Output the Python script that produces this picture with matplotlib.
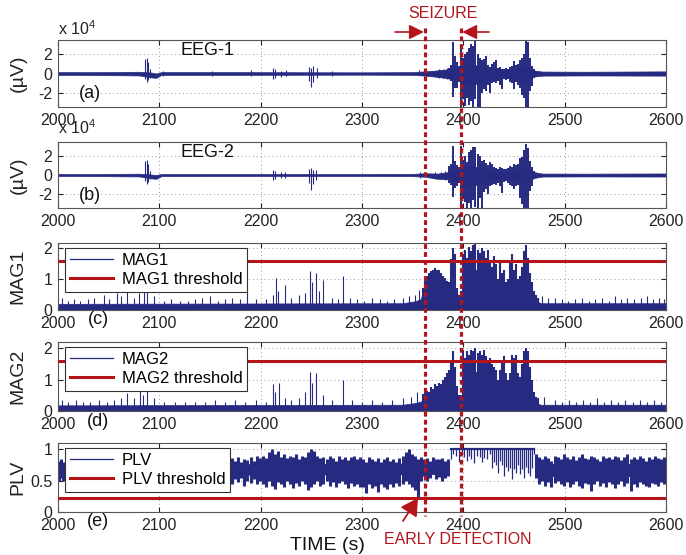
import matplotlib
matplotlib.use('Agg')
import matplotlib.pyplot as plt
from matplotlib.patches import FancyArrowPatch
from matplotlib.lines import Line2D

plt.rcParams['font.family'] = ['Liberation Sans', 'DejaVu Sans']
plt.rcParams['mathtext.fontset'] = 'custom'
plt.rcParams['mathtext.rm'] = 'Liberation Sans'

NAVY = '#262a80'
RED = '#b3151b'

# ---------------- data ----------------
x_ticks = [2000, 2100, 2200, 2300, 2400, 2500, 2600]
detection_time = 2362
seizure_onset = 2398
mag1_threshold = 1.6
mag2_threshold = 1.6
plv_threshold = 0.22

# EEG-1 (x 10^4 uV): background envelope
eeg1_t = [2000, 2040, 2080, 2092, 2097, 2102, 2180, 2300, 2350, 2362, 2372, 2382, 2390, 2398, 2405, 2415, 2425, 2440, 2455, 2462, 2470, 2478, 2520, 2600]
eeg1_up = [0.14, 0.14, 0.18, 0.1, 0.0, 0.14, 0.14, 0.12, 0.14, 0.22, 0.3, 0.4, 0.5, 0.7, 1.0, 0.8, 0.5, 0.3, 0.5, 0.7, 0.3, 0.2, 0.18, 0.22]
eeg1_lo = [-0.14, -0.16, -0.2, -0.4, -0.45, -0.14, -0.14, -0.12, -0.14, -0.22, -0.32, -0.45, -0.6, -0.8, -1.2, -1.0, -0.6, -0.35, -0.6, -0.8, -0.3, -0.22, -0.2, -0.22]
# EEG-1 isolated bursts
eeg1_spk_t = [2086, 2088, 2089, 2091, 2104, 2152, 2190, 2212, 2214, 2220, 2225, 2248, 2250, 2252, 2256, 2270, 2356, 2376, 2380, 2384]
eeg1_spk_hi = [1.5, 1.6, 1.2, 0.5, 0.3, 0.3, 0.35, 0.6, 0.5, 0.3, 0.35, 0.7, 0.6, 0.8, 0.6, 0.25, 0.35, 0.45, 0.5, 0.55]
eeg1_spk_lo = [-0.6, -0.9, -0.7, -0.5, -0.3, -0.25, -0.25, -0.6, -0.5, -0.35, -0.3, -0.8, -1.4, -0.9, -0.5, -0.3, -0.2, -0.45, -0.5, -0.6]
# EEG-1 seizure oscillation, every 2 s from 2386 to 2472
eeg1_sz_t = list(range(2386, 2473, 2))
eeg1_sz_hi = [0.6, 0.9, 3.2, 1.8, 1.2, 0.8, 3.0, 1.6, 2.0, 2.2, 2.6, 3.0, 2.8, 3.3, 2.0, 1.6, 1.4, 1.5, 1.8, 0.9, 0.7, 1.0,
              1.2, 1.4, 0.6, 0.7, 0.5, 0.5, 0.6, 0.5, 0.7, 0.8, 1.3, 0.9, 1.0, 1.4, 1.6, 2.0, 3.3, 3.2, 1.6, 0.8, 0.5, 0.3]
eeg1_sz_lo = [-0.6, -0.8, -2.4, -1.5, -1.5, -0.9, -3.4, -2.6, -3.3, -2.5, -3.2, -2.8, -3.4, -2.6, -3.4, -3.4, -2.0, -1.6, -1.8, -1.2, -2.0, -1.0,
              -0.9, -1.0, -0.8, -1.2, -1.6, -0.6, -0.7, -0.6, -0.9, -1.0, -1.6, -0.9, -1.2, -1.5, -2.2, -2.5, -3.4, -3.4, -1.8, -1.3, -0.5, -0.35]

# EEG-2
eeg2_t = [2000, 2040, 2080, 2092, 2097, 2102, 2180, 2300, 2350, 2362, 2375, 2385, 2390, 2398, 2405, 2415, 2425, 2440, 2455, 2462, 2470, 2478, 2520, 2600]
eeg2_up = [0.1, 0.1, 0.14, 0.05, 0.0, 0.1, 0.1, 0.1, 0.12, 0.18, 0.15, 0.3, 0.5, 0.7, 1.0, 0.8, 0.5, 0.3, 0.5, 0.7, 0.3, 0.15, 0.14, 0.16]
eeg2_lo = [-0.1, -0.12, -0.15, -0.35, -0.4, -0.12, -0.1, -0.1, -0.12, -0.18, -0.4, -0.45, -0.6, -0.8, -1.2, -1.0, -0.6, -0.35, -0.6, -0.8, -0.3, -0.16, -0.15, -0.16]
eeg2_spk_t = [2086, 2088, 2089, 2091, 2212, 2214, 2220, 2224, 2248, 2250, 2252, 2255, 2357, 2372, 2378, 2382]
eeg2_spk_hi = [1.5, 1.6, 1.1, 0.4, 0.5, 0.4, 0.3, 0.3, 0.6, 0.7, 0.5, 0.5, 0.3, 0.3, 0.35, 0.45]
eeg2_spk_lo = [-0.6, -0.9, -0.7, -0.4, -0.5, -0.4, -0.3, -0.3, -0.8, -1.6, -0.9, -0.5, -0.3, -0.4, -0.45, -0.5]
eeg2_sz_t = list(range(2386, 2473, 2))
eeg2_sz_hi = [0.9, 1.2, 3.0, 1.5, 1.0, 0.8, 3.0, 1.6, 2.0, 1.4, 2.4, 2.6, 2.9, 2.9, 2.2, 2.0, 1.5, 1.6, 1.3, 1.0, 1.4, 1.2,
              0.8, 0.7, 0.6, 0.8, 0.7, 0.6, 0.6, 0.7, 0.9, 0.8, 1.2, 1.0, 1.1, 1.8, 1.9, 2.6, 3.2, 2.8, 1.5, 0.8, 0.4, 0.25]
eeg2_sz_lo = [-0.8, -1.0, -2.3, -1.4, -1.2, -0.8, -3.3, -2.5, -2.8, -3.4, -2.9, -3.4, -2.6, -3.3, -3.4, -2.4, -3.4, -1.8, -1.5, -2.0, -1.2, -1.0,
              -0.9, -1.0, -0.8, -1.1, -1.9, -0.7, -0.6, -0.8, -1.0, -1.1, -1.5, -1.2, -1.0, -2.4, -3.0, -3.4, -3.4, -3.4, -1.7, -1.2, -0.4, -0.25]

# MAG1: dense level (fill) + peaks
mag1_t = [2000, 2340, 2352, 2358] + list(range(2362, 2471, 3)) + [2476, 2600]
mag1_v = [0.2, 0.22, 0.28, 0.35,
          0.85, 1.0, 1.05, 1.15, 1.1, 1.12, 0.95, 0.85, 0.7, 0.6, 0.55, 0.35, 0.25, 0.9, 1.1, 1.0, 1.25, 1.3, 1.1,
          1.2, 0.9, 1.0, 0.7, 0.85, 0.55, 0.75, 0.5, 0.45, 0.8, 0.65, 0.75, 0.5, 0.7, 0.9, 0.8, 0.5, 0.35,
          0.22, 0.22]
mag1_pk_t = [2004, 2010, 2016, 2022, 2030, 2036, 2045, 2050, 2058, 2062, 2068, 2075, 2080, 2085, 2088, 2095, 2105, 2112, 2120, 2128, 2135, 2142, 2150, 2158, 2165, 2172, 2180, 2187, 2195, 2205, 2212, 2215, 2217, 2224, 2230, 2238, 2244, 2249, 2251, 2255, 2258, 2262, 2270, 2276, 2281, 2288, 2295, 2302, 2310, 2318, 2325, 2332, 2340, 2346, 2352, 2356,
             2478, 2484, 2490, 2497, 2503, 2510, 2517, 2524, 2530, 2537, 2544, 2550, 2556, 2562, 2568, 2575, 2581, 2587, 2593, 2598]
mag1_pk_v = [0.4, 0.3, 0.35, 0.3, 0.35, 0.4, 0.5, 0.35, 0.55, 0.45, 0.7, 0.4, 0.55, 0.6, 0.7, 0.45, 0.3, 0.35, 0.3, 0.3, 0.35, 0.4, 0.45, 0.3, 0.35, 0.4, 0.35, 0.66, 0.35, 0.35, 0.5, 1.05, 0.6, 0.82, 0.4, 0.5, 0.55, 1.25, 0.9, 1.2, 0.6, 0.98, 0.4, 0.35, 1.1, 0.4, 0.35, 0.3, 0.4, 0.35, 0.3, 0.35, 0.4, 0.45, 0.5, 0.65,
             0.45, 0.4, 0.4, 0.35, 0.3, 0.35, 0.4, 0.3, 0.35, 0.4, 0.3, 0.45, 0.35, 0.4, 0.35, 0.4, 0.45, 0.35, 0.4, 0.35]
mag1_sz_t = list(range(2360, 2475, 2))
mag1_sz_v = [0.7, 1.0, 1.1, 1.2, 1.25, 1.3, 1.35, 1.3, 1.28, 1.2, 1.1, 1.05, 0.95, 0.9, 1.65, 2.0, 1.8, 0.7, 0.5, 0.6,
             1.8, 1.95, 1.7, 2.05, 1.9, 2.1, 2.2, 1.95, 1.85, 2.0, 1.9, 1.7, 1.95, 1.6, 1.4, 1.75, 1.5, 1.0, 1.6, 1.2,
             1.3, 0.9, 1.0, 1.6, 1.8, 1.3, 1.5, 1.0, 1.1, 1.4, 1.9, 2.1, 1.7, 1.2, 0.9, 0.6, 0.5, 0.4]

# MAG2
mag2_t = [2000, 2340, 2352, 2358] + list(range(2362, 2471, 3)) + [2476, 2600]
mag2_v = [0.18, 0.2, 0.25, 0.3,
          0.4, 0.45, 0.5, 0.55, 0.6, 0.62, 0.68, 0.75, 0.8, 0.85, 0.7, 0.4, 0.25, 0.8, 1.0, 1.1, 1.2, 1.25, 1.2,
          1.1, 1.0, 0.9, 0.8, 0.7, 0.55, 0.75, 0.6, 0.45, 0.7, 0.75, 0.6, 0.5, 0.75, 0.85, 0.7, 0.45, 0.3,
          0.2, 0.2]
mag2_pk_t = [2004, 2010, 2018, 2025, 2032, 2040, 2048, 2055, 2062, 2068, 2075, 2081, 2084, 2088, 2095, 2105, 2115, 2125, 2135, 2145, 2155, 2165, 2175, 2185, 2195, 2205, 2212, 2214, 2218, 2224, 2230, 2238, 2244, 2249, 2251, 2255, 2262, 2270, 2281, 2290, 2300, 2310, 2320, 2330, 2340, 2348, 2354,
             2480, 2490, 2497, 2504, 2511, 2518, 2525, 2532, 2539, 2546, 2553, 2560, 2567, 2574, 2581, 2588, 2595]
mag2_pk_v = [0.35, 0.3, 0.35, 0.3, 0.3, 0.35, 0.3, 0.35, 0.4, 0.57, 0.4, 0.88, 0.5, 0.7, 0.4, 0.3, 0.3, 0.3, 0.3, 0.3, 0.35, 0.3, 0.35, 0.3, 0.35, 0.3, 0.85, 0.6, 0.9, 0.4, 0.35, 0.4, 0.6, 1.25, 0.9, 1.2, 0.5, 0.35, 1.0, 0.35, 0.3, 0.35, 0.3, 0.35, 0.4, 0.45, 0.61,
             0.45, 0.35, 0.3, 0.35, 0.3, 0.35, 0.3, 0.4, 0.3, 0.35, 0.3, 0.35, 0.3, 0.35, 0.3, 0.35, 0.3]
mag2_sz_t = list(range(2360, 2475, 2))
mag2_sz_v = [0.55, 0.6, 0.65, 0.6, 0.75, 0.7, 0.85, 0.8, 0.9, 0.85, 1.0, 1.1, 1.2, 1.3, 1.6, 1.9, 1.4, 0.8, 0.5, 0.5,
             1.95, 1.7, 1.9, 1.8, 1.95, 1.9, 2.0, 1.85, 1.9, 1.8, 1.95, 1.75, 1.6, 1.7, 1.5, 1.4, 1.3, 1.0, 1.3, 1.6,
             1.75, 1.2, 1.0, 1.2, 1.8, 1.7, 1.8, 1.2, 1.1, 1.5, 1.9, 2.0, 1.9, 1.4, 1.0, 0.6, 0.45, 0.4]

# PLV: oscillation extremes every 3 s (before and after the locked interval)
plv_pre_t = [2001, 2003, 2005] + list(range(2166, 2388, 3))
plv_pre_hi = [0.82, 0.85, 0.8,
              0.84, 0.8, 0.86, 0.82, 0.88, 0.8, 0.85, 0.83, 0.87, 0.82, 0.9, 0.86,
              0.9, 0.86, 0.95, 1.0, 0.92, 0.97, 0.88, 0.92, 0.86, 0.9, 0.88, 0.93, 0.85, 0.9, 0.87, 0.95, 1.0, 0.98, 0.9, 0.86,
              0.88, 0.84, 0.9, 0.86, 0.82, 0.9, 0.85, 0.88, 0.83, 0.87, 0.9, 0.84, 0.88,
              0.85, 0.8, 0.88, 0.84, 0.82, 0.86, 0.8, 0.84, 0.88, 0.82, 0.85, 0.8, 0.86, 0.9,
              0.95, 1.0, 0.92, 0.9, 0.85, 0.88, 0.84, 0.86, 0.82, 0.88, 0.85, 0.84, 0.86, 0.82, 0.85]
plv_pre_lo = [0.5, 0.55, 0.5,
              0.5, 0.55, 0.45, 0.52, 0.48, 0.55, 0.42, 0.5, 0.46, 0.52, 0.44, 0.5,
              0.45, 0.4, 0.5, 0.42, 0.36, 0.48, 0.44, 0.4, 0.5, 0.45, 0.38, 0.46, 0.42, 0.5, 0.44, 0.35, 0.4, 0.45, 0.5, 0.42,
              0.45, 0.5, 0.42, 0.48, 0.4, 0.46, 0.5, 0.44, 0.38, 0.47, 0.42, 0.45, 0.4,
              0.4, 0.3, 0.45, 0.38, 0.42, 0.32, 0.45, 0.4, 0.36, 0.44, 0.4, 0.46, 0.42, 0.45,
              0.5, 0.45, 0.4, 0.35, 0.23, 0.5, 0.58, 0.5, 0.55, 0.6, 0.52, 0.56, 0.5, 0.55, 0.58]
plv_post_t = list(range(2472, 2600, 3))
plv_post_hi = [0.92, 0.88, 0.85, 0.90, 0.86, 0.82, 0.90, 0.87, 0.84, 0.92,
               0.88, 0.85, 0.90, 0.83, 0.87, 0.92, 0.86, 0.84, 0.90, 0.88,
               0.85, 0.82, 0.90, 0.86, 0.88, 0.84, 0.90, 0.87, 0.83, 0.88,
               0.92, 0.85, 0.87, 0.84, 0.90, 0.86, 0.82, 0.88, 0.85, 0.90,
               0.86, 0.84, 0.88]
plv_post_lo = [0.55, 0.45, 0.5, 0.42, 0.48, 0.4, 0.46, 0.5, 0.44, 0.42,
               0.48, 0.4, 0.45, 0.5, 0.42, 0.38, 0.46, 0.44, 0.33, 0.45,
               0.5, 0.42, 0.46, 0.4, 0.48, 0.44, 0.38, 0.45, 0.5, 0.42,
               0.46, 0.33, 0.44, 0.4, 0.48, 0.45, 0.42, 0.4, 0.46, 0.44,
               0.42, 0.48, 0.45]
# dense core of the PLV band
plv_core_t = [2000, 2386, 2472, 2600]
plv_core_lo = [0.58, 0.6, 0.56, 0.56]
plv_core_hi = [0.76, 0.78, 0.77, 0.77]
# locked interval: PLV ~ 1 with downward dips
plv_lock = [2388, 2470, 1.0]
plv_dip_t = [2390, 2393, 2396, 2399, 2401, 2404, 2406, 2408, 2411, 2413, 2416, 2418, 2420, 2423, 2426, 2428, 2430, 2432, 2434,
             2436, 2438, 2440, 2442, 2444, 2446, 2448, 2450, 2452, 2454, 2456, 2458, 2460, 2462, 2464, 2466, 2468]
plv_dip_v = [0.93, 0.9, 0.8, 0.92, 0.88, 0.82, 0.9, 0.85, 0.78, 0.9, 0.88, 0.8, 0.86, 0.84, 0.92, 0.7, 0.8, 0.75, 0.62,
             0.82, 0.75, 0.58, 0.72, 0.65, 0.7, 0.52, 0.68, 0.62, 0.75, 0.6, 0.68, 0.55, 0.72, 0.62, 0.58, 0.7]

# ---------------- figure ----------------
W, H = 686, 555
fig = plt.figure(figsize=(W / 100, H / 100), dpi=100)

def add_ax(top, bottom, left=58, right=666):
    return fig.add_axes([left / W, 1 - bottom / H, (right - left) / W, (bottom - top) / H])

ax_a = add_ax(40, 107)
ax_b = add_ax(142, 208)
ax_c = add_ax(243, 310)
ax_d = add_ax(342, 411)
ax_e = add_ax(443, 512)

def style(ax, ylim, yticks, yticklabels, ylabel):
    ax.set_xlim(2000, 2600)
    ax.set_ylim(*ylim)
    ax.set_xticks(x_ticks)
    ax.set_yticks(yticks)
    ax.set_yticklabels(yticklabels)
    ax.grid(True, linestyle=(0, (1, 3)), color='#9a9a9a', linewidth=0.7)
    ax.set_axisbelow(True)
    ax.tick_params(direction='in', top=True, right=True, length=3.5, width=0.8,
                   labelsize=11.5, colors='#222222', pad=4)
    for s in ax.spines.values():
        s.set_color('#555555')
        s.set_linewidth(0.8)
    ax.set_ylabel(ylabel, fontsize=14, color='#222222')
    ax.yaxis.set_label_coords(-0.052, 0.5)

def draw_eeg(ax, t, up, lo, st, sh, sl, zt, zh, zl):
    ax.fill_between(t, lo, up, color=NAVY, linewidth=0.5, edgecolor=NAVY, zorder=2)
    ax.vlines(st, sl, sh, color=NAVY, linewidth=0.8, zorder=2)
    ax.vlines(zt, zl, zh, color=NAVY, linewidth=1.4, zorder=2)

draw_eeg(ax_a, eeg1_t, eeg1_up, eeg1_lo, eeg1_spk_t, eeg1_spk_hi, eeg1_spk_lo, eeg1_sz_t, eeg1_sz_hi, eeg1_sz_lo)
draw_eeg(ax_b, eeg2_t, eeg2_up, eeg2_lo, eeg2_spk_t, eeg2_spk_hi, eeg2_spk_lo, eeg2_sz_t, eeg2_sz_hi, eeg2_sz_lo)
style(ax_a, (-3.45, 3.45), [-2, 0, 2], ['-2', '0', '2'], '(\u00b5V)')
style(ax_b, (-3.45, 3.45), [-2, 0, 2], ['-2', '0', '2'], '(\u00b5V)')
ax_a.text(2147, 2.4, 'EEG-1', fontsize=13, ha='center', va='center', color='#111111')
ax_b.text(2147, 2.4, 'EEG-2', fontsize=13, ha='center', va='center', color='#111111')
ax_a.text(2032, -2.1, '(a)', fontsize=13, ha='center', va='center', color='#111111')
ax_b.text(2032, -2.1, '(b)', fontsize=13, ha='center', va='center', color='#111111')

LEG = dict(loc='upper left', bbox_to_anchor=(0.0115, 0.93), fontsize=12,
           frameon=True, fancybox=False, edgecolor='#333333', framealpha=1,
           borderpad=0.3, labelspacing=0.25, handlelength=2.6, handletextpad=0.5,
           borderaxespad=0)

def draw_mag(ax, t, v, pt, pv, zt, zv, thr, name):
    ax.fill_between(t, 0, v, color=NAVY, linewidth=0.5, edgecolor=NAVY, zorder=2)
    ax.plot([], [], color=NAVY, linewidth=0.9, label=name)
    ax.vlines(pt, 0, pv, color=NAVY, linewidth=0.8, zorder=2)
    ax.vlines(zt, 0, zv, color=NAVY, linewidth=1.5, zorder=2)
    ax.axhline(thr, color=RED, linewidth=2.2, zorder=3, label=name + ' threshold')
    leg = ax.legend(**LEG)
    leg.get_frame().set_linewidth(0.8)

draw_mag(ax_c, mag1_t, mag1_v, mag1_pk_t, mag1_pk_v, mag1_sz_t, mag1_sz_v, mag1_threshold, 'MAG1')
draw_mag(ax_d, mag2_t, mag2_v, mag2_pk_t, mag2_pk_v, mag2_sz_t, mag2_sz_v, mag2_threshold, 'MAG2')
style(ax_c, (0, 2.17), [0, 1, 2], ['0', '1', '2'], 'MAG1')
style(ax_d, (0, 2.2), [0, 1, 2], ['0', '1', '2'], 'MAG2')

# PLV
ax_e.fill_between(plv_core_t[:2], plv_core_lo[:2], plv_core_hi[:2], color=NAVY, linewidth=0, zorder=2)
ax_e.fill_between(plv_core_t[2:], plv_core_lo[2:], plv_core_hi[2:], color=NAVY, linewidth=0, zorder=2)
ax_e.vlines(plv_pre_t, plv_pre_lo, plv_pre_hi, color=NAVY, linewidth=2.2, zorder=2)
ax_e.vlines(plv_post_t, plv_post_lo, plv_post_hi, color=NAVY, linewidth=2.2, zorder=2)
ax_e.plot([plv_lock[0], plv_lock[1]], [plv_lock[2], plv_lock[2]], color=NAVY, linewidth=1.6, zorder=2, label='PLV')
ax_e.vlines(plv_dip_t, plv_dip_v, plv_lock[2], color=NAVY, linewidth=0.9, zorder=2)
ax_e.vlines([plv_lock[0], plv_lock[1]], [plv_pre_hi[-1], plv_post_hi[0]], plv_lock[2], color=NAVY, linewidth=0.9, zorder=2)
ax_e.axhline(plv_threshold, color=RED, linewidth=2.2, zorder=3, label='PLV threshold')
leg = ax_e.legend(**LEG)
leg.get_frame().set_linewidth(0.8)
leg.get_lines()[0].set_linewidth(0.9)
style(ax_e, (0, 1.1), [0, 0.5, 1], ['0', '0.5', '1'], 'PLV')

# panel letters under c, d, e
for lab, ypx in [('(c)', 319), ('(d)', 421), ('(e)', 522)]:
    fig.text(98 / W, 1 - ypx / H, lab, fontsize=13, ha='center', va='center', color='#111111')

# x 10^4 multipliers
fig.text(58 / W, 1 - 29 / H, r'x 10$^{4}$', fontsize=11.5, ha='left', va='center', color='#222222')
fig.text(58 / W, 1 - 128 / H, r'x 10$^{4}$', fontsize=11.5, ha='left', va='center', color='#222222')

# TIME label
fig.text(327 / W, 1 - 546 / H, 'TIME (s)', fontsize=14, ha='center', va='center', color='#111111')

# dashed vertical lines spanning panels
inv = fig.transFigure.inverted()
def fig_x(t):
    return inv.transform(ax_a.transData.transform((t, 0)))[0]

for tt in [detection_time, seizure_onset]:
    xf = fig_x(tt)
    fig.add_artist(Line2D([xf, xf], [1 - 28 / H, 1 - 516 / H], color=RED, linewidth=2.3,
                          linestyle=(0, (1.5, 1.0)), zorder=10))

# SEIZURE annotation
fig.text(443 / W, 1 - 14 / H, 'SEIZURE', fontsize=11.5, ha='center', va='center', color=RED)
xa = fig_x(detection_time) * W
xb = fig_x(seizure_onset) * W
for x0, x1 in [(395, xa - 1), (489, xb + 1)]:
    fig.add_artist(FancyArrowPatch((x0 / W, 1 - 32 / H), (x1 / W, 1 - 32 / H),
                                   transform=fig.transFigure,
                                   arrowstyle='-|>,head_length=0.8,head_width=0.4',
                                   mutation_scale=11, color=RED, linewidth=1.2,
                                   shrinkA=0, shrinkB=0, zorder=11))

# EARLY DETECTION annotation
fig.text(458 / W, 1 - 539 / H, 'EARLY DETECTION', fontsize=11.5, ha='center', va='center', color=RED)
fig.add_artist(FancyArrowPatch((403 / W, 1 - 521 / H), (418 / W, 1 - 498 / H),
                               transform=fig.transFigure,
                               arrowstyle='-|>,head_length=0.8,head_width=0.45',
                               mutation_scale=13, color=RED, linewidth=1.3,
                               shrinkA=0, shrinkB=0, zorder=11))

fig.savefig('out.png', dpi=100)
